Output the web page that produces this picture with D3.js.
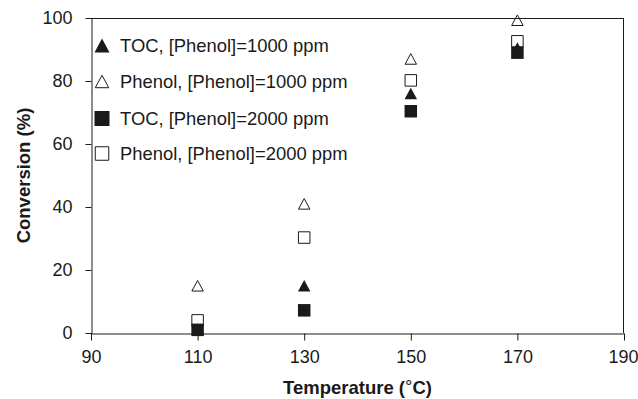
<!DOCTYPE html>
<html><head><meta charset="utf-8">
<script src="https://cdn.jsdelivr.net/npm/d3@7"></script>
<style>body{margin:0;background:#fff}svg{display:block}</style>
</head><body>
<svg id="c" width="638" height="399"></svg>
<script>
const temps = [110, 130, 150, 170];
const toc1000 = [1.3, 15, 76, 90.5];
const phenol1000 = [15, 41, 87, 99.3];
const toc2000 = [1, 7.2, 70.4, 89];
const phenol2000 = [4, 30.3, 80.2, 92.6];
const xTicks = [90, 110, 130, 150, 170, 190];
const yTicks = [0, 20, 40, 60, 80, 100];
const seriesNames = ["TOC, [Phenol]=1000 ppm", "Phenol, [Phenol]=1000 ppm", "TOC, [Phenol]=2000 ppm", "Phenol, [Phenol]=2000 ppm"];

const font = "'Liberation Sans', Arial, sans-serif";
const ink = "#1a1a1a";
const svg = d3.select("#c");
const L = 91, R = 624, T = 18, B = 333;
const x = d3.scaleLinear().domain([90, 190]).range([L, R]);
const y = d3.scaleLinear().domain([0, 100]).range([B, T]);

// frame
svg.append("line").attr("x1", L).attr("x2", R).attr("y1", T + 0.5).attr("y2", T + 0.5).attr("stroke", ink);
svg.append("line").attr("x1", R - 0.5).attr("x2", R - 0.5).attr("y1", T).attr("y2", B).attr("stroke", ink);

const xAxis = svg.append("g").attr("transform", `translate(0,${B + 0.5})`)
  .call(d3.axisBottom(x).tickValues(xTicks).tickSize(7).tickSizeOuter(0).tickPadding(10).tickFormat(d3.format("d")));
const yAxis = svg.append("g").attr("transform", `translate(${L + 0.5},0)`)
  .call(d3.axisLeft(y).tickValues(yTicks).tickSize(6).tickSizeOuter(0).tickPadding(13).tickFormat(d3.format("d")));
[xAxis, yAxis].forEach(g => {
  g.selectAll("path, line").attr("stroke", ink);
  g.selectAll("text").attr("font-family", font).attr("font-size", 18).attr("fill", ink);
});
xAxis.selectAll(".tick text").filter(d => d === 190).attr("text-anchor", "end").attr("dx", 14);
// extend y-axis below origin
svg.append("line").attr("x1", L + 0.5).attr("x2", L + 0.5).attr("y1", B).attr("y2", B + 7).attr("stroke", ink);

// titles
const xt = svg.append("text").attr("x", (L + R) / 2).attr("y", 394).attr("text-anchor", "middle")
  .attr("font-family", font).attr("font-size", 18.5).attr("font-weight", "bold").attr("fill", ink);
xt.append("tspan").text("Temperature (");
xt.append("tspan").attr("font-weight", "normal").attr("dy", -1).text("°");
xt.append("tspan").attr("dy", 1).text("C)");
svg.append("text").attr("transform", `translate(29.5,${(T + B) / 2}) rotate(-90)`).attr("text-anchor", "middle")
  .attr("font-family", font).attr("font-size", 18.5).attr("font-weight", "bold").attr("fill", ink)
  .text("Conversion (%)");

function tri(s) { const h = s * 0.46; return `M0,${-h} L${s / 2},${h} L${-s / 2},${h} Z`; }
function sq(s) { const h = s / 2; return `M${-h},${-h} H${h} V${h} H${-h} Z`; }
const series = [
  { name: seriesNames[0], vals: toc1000, shape: tri, filled: true },
  { name: seriesNames[1], vals: phenol1000, shape: tri, filled: false },
  { name: seriesNames[2], vals: toc2000, shape: sq, filled: true },
  { name: seriesNames[3], vals: phenol2000, shape: sq, filled: false }
];

series.forEach(s => {
  svg.append("g").selectAll("path").data(temps.map((t, i) => [t, s.vals[i]])).join("path")
    .attr("transform", d => `translate(${x(d[0])},${y(d[1])})`)
    .attr("d", s.filled ? s.shape(12.5) : s.shape(11.5))
    .attr("fill", s.filled ? ink : "none")
    .attr("stroke", ink).attr("stroke-width", s.filled ? 0 : 1);
});

// legend
const lg = svg.append("g");
const rowY = [45.5, 81.5, 118.5, 153.5];
series.forEach((s, i) => {
  lg.append("path").attr("transform", `translate(102,${rowY[i]})`)
    .attr("d", s.filled ? s.shape(15) : s.shape(13.5))
    .attr("fill", s.filled ? ink : "none").attr("stroke", ink).attr("stroke-width", s.filled ? 0 : 1);
  lg.append("text").attr("x", 120).attr("y", rowY[i] + 6.5)
    .attr("font-family", font).attr("font-size", 18.4).attr("fill", ink).text(s.name);
});
</script>
</body></html>
